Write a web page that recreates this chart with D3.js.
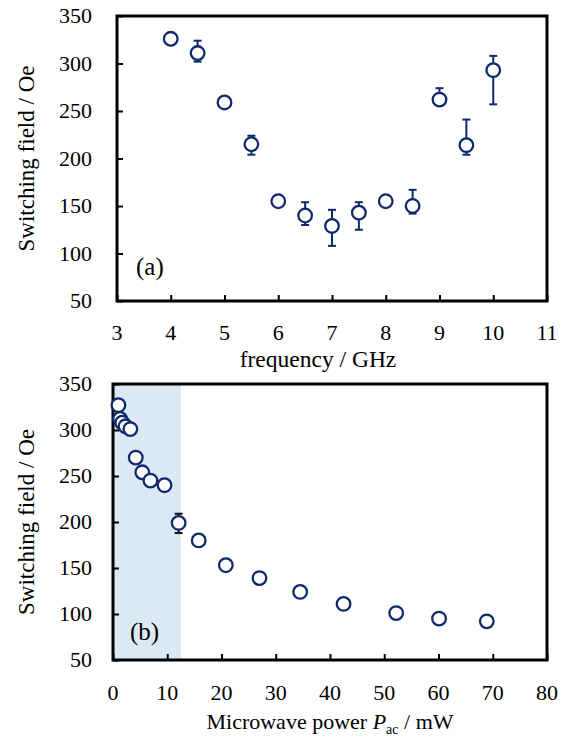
<!DOCTYPE html>
<html>
<head>
<meta charset="utf-8">
<script src="https://cdn.jsdelivr.net/npm/d3@7"></script>
<style>
  body { margin: 0; background: #fff; }
</style>
</head>
<body>
<svg id="chart" width="567" height="741" font-family="'Liberation Serif', 'Times New Roman', 'DejaVu Serif', serif"></svg>
<script>
// Panel (a): switching field vs frequency
const freqA = [4, 4.5, 5, 5.5, 6, 6.5, 7, 7.5, 8, 8.5, 9, 9.5, 10];
const fieldA = [326, 311, 259, 215, 155, 140, 129, 143, 155, 150, 262, 214, 293];
const errPlusA = [0, 13, 0, 9, 0, 14, 17, 11, 0, 17, 12, 27, 15];
const errMinusA = [0, 9, 0, 11, 0, 10, 21, 18, 0, 8, 5, 10, 36];

// Panel (b): switching field vs microwave power
const powerB = [1.0, 1.3, 1.7, 2.3, 3.2, 4.2, 5.4, 6.9, 9.5, 12.1, 15.8, 20.8, 27.0, 34.5, 42.5, 52.2, 60.1, 68.9];
const fieldB = [327, 312, 308, 304, 301, 270, 254, 245, 240, 199, 180, 153, 139, 124, 111, 101, 95, 92];
const errPlusB = [0, 0, 0, 0, 0, 0, 0, 0, 0, 10, 0, 0, 0, 0, 0, 0, 0, 0];
const errMinusB = [0, 0, 0, 0, 0, 0, 0, 0, 0, 11, 0, 0, 0, 0, 0, 0, 0, 0];
const shadeB = [0, 12.5];

const ticksA = [3, 4, 5, 6, 7, 8, 9, 10, 11];
const ticksB = [0, 10, 20, 30, 40, 50, 60, 70, 80];
const ticksY = [50, 100, 150, 200, 250, 300, 350];

const navy = '#0f2a6c';
const serif = "'Liberation Serif', 'Times New Roman', 'DejaVu Serif', serif";
const svg = d3.select('#chart');

function panel(opts) {
  const { left, right, top, bottom, xDomain, xTicks, xs, ys, plus, minus, errColor, tag, tagPos, labelY, tickY, xLabel, shade } = opts;
  const x = d3.scaleLinear().domain(xDomain).range([left, right]);
  const y = d3.scaleLinear().domain([50, 350]).range([bottom, top]);
  const g = svg.append('g').attr('font-family', serif);

  if (shade) {
    g.append('rect')
      .attr('x', x(shade[0])).attr('y', top)
      .attr('width', x(shade[1]) - x(shade[0])).attr('height', bottom - top)
      .attr('fill', '#dce9f5');
  }

  // inward ticks on bottom and left
  g.append('g')
    .attr('transform', `translate(0,${bottom})`)
    .call(d3.axisBottom(x).tickValues(xTicks).tickSizeInner(-6).tickSizeOuter(0).tickFormat(''))
    .call(a => a.select('.domain').remove())
    .selectAll('line').attr('stroke', '#000').attr('stroke-width', 2);
  g.append('g')
    .attr('transform', `translate(${left},0)`)
    .call(d3.axisLeft(y).tickValues(ticksY).tickSizeInner(-6).tickSizeOuter(0).tickFormat(''))
    .call(a => a.select('.domain').remove())
    .selectAll('line').attr('stroke', '#000').attr('stroke-width', 2);

  // tick labels
  g.selectAll('.xl').data(xTicks).join('text')
    .attr('x', d => x(d)).attr('y', tickY)
    .attr('text-anchor', 'middle').attr('font-size', 22).text(d => d);
  g.selectAll('.yl').data(ticksY).join('text')
    .attr('x', 92).attr('y', d => y(d) + 7)
    .attr('text-anchor', 'end').attr('font-size', 22).text(d => d);

  // frame
  g.append('rect')
    .attr('x', left).attr('y', top)
    .attr('width', right - left).attr('height', bottom - top)
    .attr('fill', 'none').attr('stroke', '#000').attr('stroke-width', 3);

  // axis titles
  g.append('text')
    .attr('transform', `translate(34,${(top + bottom) / 2}) rotate(-90)`)
    .attr('text-anchor', 'middle').attr('font-size', 23)
    .text('Switching field / Oe');
  xLabel(g, labelY);

  g.append('text')
    .attr('x', tagPos[0]).attr('y', tagPos[1])
    .attr('font-size', 25).text(tag);

  // error bars
  const idx = d3.range(xs.length).filter(i => plus[i] > 0 || minus[i] > 0);
  const eb = g.selectAll('.eb').data(idx).join('g')
    .attr('stroke', errColor).attr('stroke-width', 2);
  eb.append('line')
    .attr('x1', i => x(xs[i])).attr('x2', i => x(xs[i]))
    .attr('y1', i => y(ys[i] + plus[i])).attr('y2', i => y(ys[i] - minus[i]));
  eb.append('line')
    .attr('x1', i => x(xs[i]) - 4).attr('x2', i => x(xs[i]) + 4)
    .attr('y1', i => y(ys[i] + plus[i])).attr('y2', i => y(ys[i] + plus[i]));
  eb.append('line')
    .attr('x1', i => x(xs[i]) - 4).attr('x2', i => x(xs[i]) + 4)
    .attr('y1', i => y(ys[i] - minus[i])).attr('y2', i => y(ys[i] - minus[i]));

  // markers
  g.selectAll('circle.pt').data(xs).join('circle')
    .attr('class', 'pt')
    .attr('cx', d => x(d)).attr('cy', (d, i) => y(ys[i]))
    .attr('r', 6.8)
    .attr('fill', '#fff').attr('stroke', navy).attr('stroke-width', 2.3);
}

panel({
  left: 117, right: 547, top: 16, bottom: 301,
  xDomain: [3, 11], xTicks: ticksA, xs: freqA, ys: fieldA,
  plus: errPlusA, minus: errMinusA, errColor: navy,
  tag: '(a)', tagPos: [136, 275], tickY: 340, labelY: 367,
  xLabel: (g, cy) => g.append('text').attr('x', 318).attr('y', cy)
    .attr('text-anchor', 'middle').attr('font-size', 23.5).text('frequency / GHz')
});

panel({
  left: 113, right: 547, top: 384, bottom: 660,
  xDomain: [0, 80], xTicks: ticksB, xs: powerB, ys: fieldB,
  plus: errPlusB, minus: errMinusB, errColor: '#111',
  tag: '(b)', tagPos: [130, 640], tickY: 700, labelY: 729, shade: shadeB,
  xLabel: (g, cy) => {
    const t = g.append('text').attr('x', 330).attr('y', cy)
      .attr('text-anchor', 'middle').attr('font-size', 22);
    t.append('tspan').text('Microwave power ');
    t.append('tspan').attr('font-style', 'italic').text('P');
    t.append('tspan').attr('font-size', 14).attr('dy', 5).text('ac');
    t.append('tspan').attr('dy', -5).text(' / mW');
  }
});
</script>
</body>
</html>
